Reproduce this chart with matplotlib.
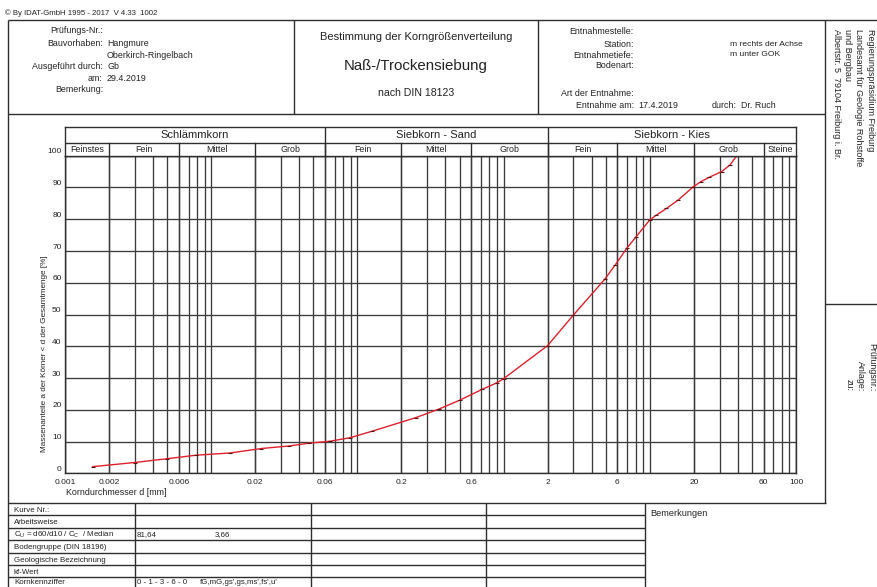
import matplotlib
matplotlib.use('Agg')
import matplotlib.pyplot as plt
from matplotlib.transforms import ScaledTranslation
from matplotlib.ticker import FixedLocator, LogLocator, NullFormatter

plt.rcParams['font.family'] = ['Liberation Sans', 'DejaVu Sans']

W, H, DPI = 877, 587, 100

# ---------------- data ----------------
grain_d_mm = [0.00155, 0.0030, 0.0050, 0.0079, 0.0135, 0.022, 0.034, 0.047,
              0.065, 0.089, 0.125, 0.25, 0.36, 0.50, 0.71, 0.90, 1.0, 2.0,
              3.0, 4.94, 5.8, 7.0, 8.0, 10.0, 11.1, 13.0, 15.7, 19.8, 22.3,
              25.5, 31.0, 35.4, 39.3]
passing_pct = [2.1, 3.4, 4.6, 5.7, 6.4, 7.8, 8.6, 9.5,
               10.1, 11.2, 13.2, 17.5, 20.2, 23.0, 26.4, 28.5, 29.8, 40.2,
               49.8, 61.2, 65.6, 71.0, 74.3, 79.8, 81.3, 83.4, 86.1, 90.2, 91.8,
               93.2, 95.0, 97.1, 100.0]
end_mark_d = [45.0]
end_mark_pct = [100.0]

x_tick_values = [0.001, 0.002, 0.006, 0.02, 0.06, 0.2, 0.6, 2, 6, 20, 60, 100]
x_tick_labels = ['0.001', '0.002', '0.006', '0.02', '0.06', '0.2', '0.6',
                 '2', '6', '20', '60', '100']
y_tick_values = [0, 10, 20, 30, 40, 50, 60, 70, 80, 90, 100]

main_band_names = ['Schlämmkorn', 'Siebkorn - Sand', 'Siebkorn - Kies']
main_band_edges = [0.001, 0.06, 2, 100]
sub_band_names = ['Feinstes', 'Fein', 'Mittel', 'Grob', 'Fein', 'Mittel', 'Grob',
                  'Fein', 'Mittel', 'Grob', 'Steine']
sub_band_edges = [0.001, 0.002, 0.006, 0.02, 0.06, 0.2, 0.6, 2, 6, 20, 60, 100]

table_rows = ['Kurve Nr.:', 'Arbeitsweise',
              r'C$_\mathregular{U}$ = d60/d10 / C$_\mathregular{C}$  / Median',
              'Bodengruppe (DIN 18196)', 'Geologische Bezeichnung', 'kf-Wert', 'Kornkennziffer']
cu_value = '81,64'
cc_value = '3,66'
korn_value = '0 - 1 - 3 - 6 - 0'
korn_text = "fG,mG,gs',gs,ms',fs',u'"

LINE = '#2e2e2e'
GRID = '#3c3c3c'
TXT = '#222222'
FS = 6.4

fig = plt.figure(figsize=(W / DPI, H / DPI), dpi=DPI)
fig.patch.set_facecolor('white')

bg = fig.add_axes([0, 0, 1, 1])
bg.set_xlim(0, W)
bg.set_ylim(H, 0)
bg.axis('off')


def hline(y, x0, x1, lw=1.0):
    bg.plot([x0, x1], [y, y], color=LINE, lw=lw, solid_capstyle='butt')


def vline(x, y0, y1, lw=1.0):
    bg.plot([x, x], [y0, y1], color=LINE, lw=lw, solid_capstyle='butt')


def t(x, y, s, size=FS, ha='left', va='center', **kw):
    bg.text(x, y, s, fontsize=size, ha=ha, va=va, color=TXT, **kw)


# ---------------- form frame ----------------
hline(19.5, 8, W)
vline(8, 19.5, H)
hline(114, 8, 825)
vline(294, 19.5, 114)
vline(538, 19.5, 114)
vline(825, 19.5, 502.5)
hline(304, 825, W)
hline(502.5, 8, 826)
for yy in [515, 527.7, 540, 552.7, 565, 577.3]:
    hline(yy, 8, 645)
for xx in [135, 311, 486, 645]:
    vline(xx, 502.5, H)

t(5, 13.5, '© By IDAT-GmbH 1995 - 2017  V 4.33  1002', size=5.6)

# left header block
lx, vx = 103, 107
t(lx, 30.7, 'Prüfungs-Nr.:', ha='right')
t(lx, 43.3, 'Bauvorhaben:', ha='right')
t(vx, 43.3, 'Hangmure')
t(vx, 55, 'Oberkirch-Ringelbach')
t(lx, 66.7, 'Ausgeführt durch:', ha='right')
t(vx, 66.7, 'Gb')
t(lx, 78.3, 'am:', ha='right')
t(vx, 78.3, '29.4.2019')
t(lx, 90, 'Bemerkung:', ha='right')

# middle header block
t(416, 37, 'Bestimmung der Korngrößenverteilung', size=8.0, ha='center')
t(416, 66, 'Naß-/Trockensiebung', size=10.8, ha='center')
t(416, 93, 'nach DIN 18123', size=7.6, ha='center')

# right header block
rx = 634
t(rx, 31.7, 'Entnahmestelle:', ha='right')
t(rx, 44.3, 'Station:', ha='right')
t(730, 44.3, 'm rechts der Achse', size=6.1)
t(rx, 55, 'Entnahmetiefe:', ha='right')
t(730, 55, 'm unter GOK', size=6.1)
t(rx, 65.7, 'Bodenart:', ha='right')
t(rx, 93.3, 'Art der Entnahme:', ha='right')
t(rx, 106, 'Entnahme am:', ha='right')
t(638.5, 106, '17.4.2019')
t(712, 106, 'durch:')
t(741, 106, 'Dr. Ruch')

# right vertical panel
for xx, s in [(870.5, 'Regierungspräsidium Freiburg'),
              (859, 'Landesamt für Geologie Rohstoffe'),
              (847.5, 'und Bergbau'),
              (836, 'Albertstr. 5  79104 Freiburg i. Br.')]:
    t(xx, 29, s, size=6.5, ha='center', va='top', rotation=-90)
for xx, s in [(872, 'Prüfungsnr.:'), (860.5, 'Anlage:'), (849, 'zu:')]:
    t(xx, 391, s, size=6.4, ha='center', va='bottom', rotation=-90)

# bottom table
row_y = [510, 522.5, 535, 547.5, 560, 572.5, 582.6]
for yy, s in zip(row_y, table_rows):
    t(14, yy, s, size=5.7)
t(137, row_y[2], cu_value, size=5.7)
t(215, row_y[2], cc_value, size=5.7)
t(137, row_y[6], korn_value, size=5.7)
t(200, row_y[6], korn_text, size=5.7)
t(650, 513, 'Bemerkungen', size=6.6)

# axis labels
t(45, 354, 'Massenanteile a der Körner < d der Gesamtmenge [%]', size=5.85,
  ha='center', rotation=90)
t(66, 492.5, 'Korndurchmesser d [mm]', size=6.4)


# ---------------- chart ----------------
def px_axes(l, tp, r, b):
    return fig.add_axes([l / W, 1 - b / H, (r - l) / W, (b - tp) / H])


ax = px_axes(65, 155.7, 796, 473.3)
ax.set_xscale('log')
ax.set_xlim(0.001, 100)
ax.set_ylim(0, 100)
ax.set_facecolor('none')
ax.xaxis.set_major_locator(FixedLocator(x_tick_values))
ax.set_xticklabels(x_tick_labels)
ax.xaxis.set_minor_locator(LogLocator(base=10, subs=range(1, 10), numticks=50))
ax.xaxis.set_minor_formatter(NullFormatter())
ax.xaxis.remove_overlapping_locs = False
ax.set_yticks(y_tick_values)
ax.grid(which='both', axis='x', color=GRID, lw=0.95)
ax.grid(which='major', axis='y', color=GRID, lw=0.95)
ax.tick_params(which='both', length=0)
ax.tick_params(axis='x', labelsize=6.0, pad=4.0, colors=TXT)
ax.tick_params(axis='y', labelsize=6.0, pad=2.5, colors=TXT)
for lab in ax.get_yticklabels():
    lab.set_transform(lab.get_transform() + ScaledTranslation(0, 3.5 / 72, fig.dpi_scale_trans))
for sp in ax.spines.values():
    sp.set_color(LINE)
    sp.set_linewidth(1.0)

ax.plot(grain_d_mm, passing_pct, color='#e0202c', lw=1.0, zorder=4,
        marker='_', ms=3, mec='#5a1414', mew=0.8)
ax.plot(end_mark_d, end_mark_pct, ls='none', marker='_', ms=3, mec='#999999',
        mew=0.8, zorder=4, clip_on=False)

# ---------------- band header ----------------
hd = px_axes(65, 127, 796, 155.7)
hd.set_xscale('log')
hd.set_xlim(0.001, 100)
hd.set_ylim(0, 28.7)
hd.set_xticks([])
hd.set_yticks([])
hd.minorticks_off()
for sp in hd.spines.values():
    sp.set_color(LINE)
    sp.set_linewidth(1.0)
hd.axhline(12.7, color=LINE, lw=1.0)
for e in sub_band_edges[1:-1]:
    hd.plot([e, e], [0, 12.7], color=LINE, lw=1.0)
for e in main_band_edges[1:-1]:
    hd.plot([e, e], [0, 28.7], color=LINE, lw=1.0)
for i, name in enumerate(main_band_names):
    a, b = main_band_edges[i], main_band_edges[i + 1]
    hd.text((a * b) ** 0.5, 20.7, name, ha='center', va='center', fontsize=8.0, color=TXT)
for i, name in enumerate(sub_band_names):
    a, b = sub_band_edges[i], sub_band_edges[i + 1]
    hd.text((a * b) ** 0.5, 6.2, name, ha='center', va='center', fontsize=6.4, color=TXT)

fig.savefig('out.png', dpi=DPI, facecolor='white')
